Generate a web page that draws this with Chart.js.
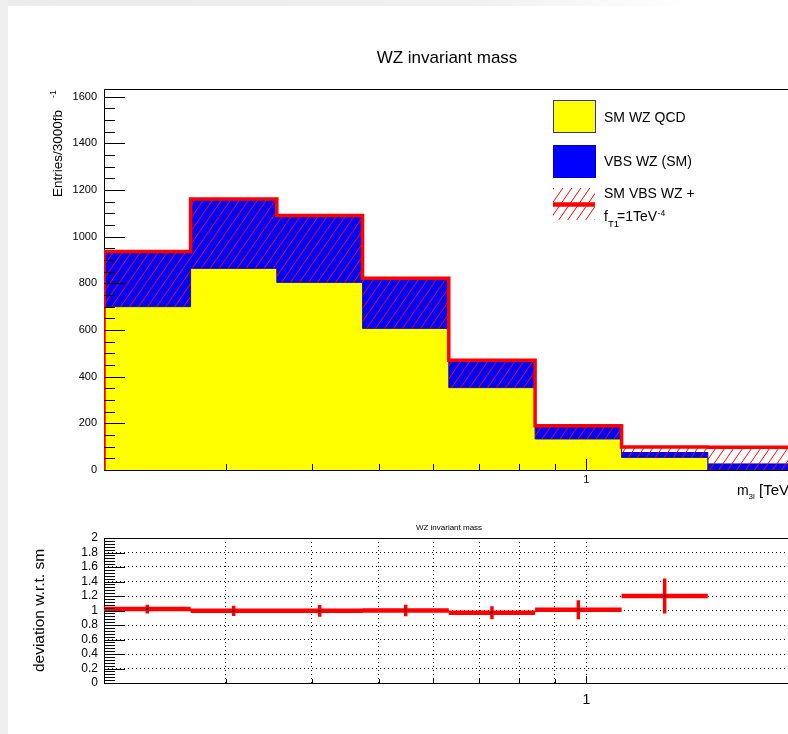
<!DOCTYPE html>
<html>
<head>
<meta charset="utf-8">
<title>WZ invariant mass</title>
<script src="https://cdn.jsdelivr.net/npm/chart.js@4.4.1/dist/chart.umd.min.js"></script>
<style>
  html, body { margin: 0; padding: 0; background: #fff; overflow: hidden; width: 788px; height: 734px; }
  #bandTop { position: absolute; left: 0; top: 0; width: 788px; height: 6px;
             background: linear-gradient(to right, #ebebeb 0%, #f0f0f0 60%, #ffffff 88%); }
  #bandLeft { position: absolute; left: 0; top: 0; width: 8px; height: 734px; background: #efefef; }
  canvas { position: absolute; left: 0; }
  #topChart { top: 0; }
  #ratioChart { top: 505px; }
</style>
</head>
<body>
<div id="bandTop"></div>
<div id="bandLeft"></div>
<canvas id="topChart" width="800" height="505"></canvas>
<canvas id="ratioChart" width="800" height="229"></canvas>
<script>
// m_3l bin edges in TeV (8 logarithmic bins)
const binEdges = [0.2, 0.267, 0.356, 0.474, 0.632, 0.843, 1.125, 1.5, 2.0];

// Stacked histogram tops, entries per 3000 fb^-1
const smQcd     = [700, 864, 804, 607, 353, 133, 54, 0];     // SM WZ QCD
const smTotal   = [930, 1155, 1085, 815, 464, 184, 75, 26];  // QCD + VBS WZ (SM)
const aqgcTotal = [937, 1161, 1091, 822, 470, 190, 99, 98];  // QCD + VBS WZ with f_T1 = 1 TeV^-4

// Deviation w.r.t. SM per bin and its error (last bin lies above the shown range)
const ratioVals = [1.02, 0.995, 0.995, 1.0, 0.97, 1.01, 1.2, null];
const ratioErrs = [0.06, 0.07, 0.08, 0.08, 0.09, 0.13, 0.24, null];

// Axis ticks
const yTicksTop   = [0, 200, 400, 600, 800, 1000, 1200, 1400, 1600];
const yMinorTop   = 50;
const yTicksRatio = [0, 0.2, 0.4, 0.6, 0.8, 1, 1.2, 1.4, 1.6, 1.8, 2];
const yMinorRatio = 0.04;
const xTickVals   = [0.3, 0.4, 0.5, 0.6, 0.7, 0.8, 0.9, 1];
const xLabelVals  = [1];

const FONT = '"Liberation Sans", Arial, Helvetica, sans-serif';
const RED = '#ff0000', BLUE = '#0000ff', YELLOW = '#ffff00', LINE_BLUE = '#1a1a8a';

// Histogram as step points: one point per bin low edge plus the final upper edge
function histPoints(vals) {
  const pts = vals.map((v, i) => ({ x: binEdges[i], y: v }));
  pts.push({ x: binEdges[binEdges.length - 1], y: vals[vals.length - 1] });
  return pts;
}
function outlinePoints(vals) {
  const first = binEdges[0], last = binEdges[binEdges.length - 1];
  return [{ x: first, y: 0 }, ...histPoints(vals), { x: last, y: 0 }];
}

function makeHatch(ctx, color) {
  const w = 9, h = 13;
  const tile = document.createElement('canvas');
  tile.width = w; tile.height = h;
  const g = tile.getContext('2d');
  g.strokeStyle = color; g.lineWidth = 1;
  g.beginPath();
  for (let k = -1; k <= 1; k++) { g.moveTo(k * w, h); g.lineTo(k * w + w, 0); }
  g.stroke();
  return ctx.createPattern(tile, 'repeat');
}

const topCanvas = document.getElementById('topChart');
const hatch = makeHatch(topCanvas.getContext('2d'), RED);

function drawTicksY(ctx, a, scale, majors, minorStep, majorLen, minorLen) {
  const lo = majors[0], hi = majors[majors.length - 1];
  const n = Math.round((hi - lo) / minorStep);
  const majorStep = majors[1] - majors[0];
  ctx.beginPath();
  for (let i = 0; i <= n; i++) {
    const v = lo + i * minorStep;
    const py = Math.round(scale.getPixelForValue(v)) + 0.5;
    const isMajor = Math.abs(v / majorStep - Math.round(v / majorStep)) < 1e-6;
    ctx.moveTo(a.left, py);
    ctx.lineTo(a.left + (isMajor ? majorLen : minorLen), py);
  }
  ctx.stroke();
}
function drawTicksX(ctx, a, scale, majorLen, minorLen) {
  ctx.beginPath();
  xTickVals.forEach(v => {
    const px = Math.round(scale.getPixelForValue(v)) + 0.5;
    ctx.moveTo(px, a.bottom);
    ctx.lineTo(px, a.bottom - (xLabelVals.includes(v) ? majorLen : minorLen));
  });
  ctx.stroke();
}
function drawFrame(ctx, a) {
  ctx.save();
  ctx.strokeStyle = '#000'; ctx.lineWidth = 1;
  ctx.strokeRect(a.left + 0.5, a.top + 0.5, a.right - a.left, a.bottom - a.top);
  ctx.restore();
}
function rotText(ctx, text, x, y, font, align) {
  ctx.save();
  ctx.translate(x, y);
  ctx.rotate(-Math.PI / 2);
  ctx.font = font;
  ctx.textAlign = align;
  ctx.textBaseline = 'alphabetic';
  ctx.fillText(text, 0, 0);
  ctx.restore();
}

const topDecor = {
  id: 'topDecor',
  beforeDatasetsDraw(chart) { drawFrame(chart.ctx, chart.chartArea); },
  afterDatasetsDraw(chart) {
    const { ctx, chartArea: a, scales: { x, y } } = chart;
    ctx.save();
    ctx.strokeStyle = '#000'; ctx.lineWidth = 1;
    drawTicksY(ctx, a, y, yTicksTop, yMinorTop, 21, 11);
    drawTicksX(ctx, a, x, 11, 6);
    ctx.restore();
  },
  afterDraw(chart) {
    const ctx = chart.ctx;
    ctx.save();
    ctx.fillStyle = '#000';
    ctx.textBaseline = 'alphabetic';

    // title
    ctx.font = '17px ' + FONT;
    ctx.textAlign = 'center';
    ctx.fillText('WZ invariant mass', 447, 63);

    // y-axis title with superscript
    rotText(ctx, 'Entries/3000fb', 62, 197, '13.5px ' + FONT, 'left');
    rotText(ctx, '-1', 56, 98, '9px ' + FONT, 'left');

    // x-axis title m_3l [TeV]
    ctx.textAlign = 'left';
    ctx.font = '14px ' + FONT;
    ctx.fillText('m', 737, 495);
    ctx.font = '8px ' + FONT;
    ctx.fillText('3l', 748.5, 499);
    ctx.font = '15px ' + FONT;
    ctx.fillText('[TeV]', 759, 495);

    // legend
    const bx = 553, bw = 42, bh = 32;
    ctx.fillStyle = YELLOW;
    ctx.fillRect(bx, 100, bw, bh);
    ctx.strokeStyle = '#3030b0'; ctx.lineWidth = 1;
    ctx.strokeRect(bx + 0.5, 100.5, bw, bh);
    ctx.fillStyle = BLUE;
    ctx.fillRect(bx, 145, bw, bh);
    ctx.strokeStyle = '#0000cc';
    ctx.strokeRect(bx + 0.5, 145.5, bw, bh);
    ctx.fillStyle = hatch;
    ctx.fillRect(bx, 188, bw, bh);
    ctx.strokeStyle = RED; ctx.lineWidth = 4.3;
    ctx.beginPath(); ctx.moveTo(bx, 204.5); ctx.lineTo(bx + bw, 204.5); ctx.stroke();

    ctx.fillStyle = '#000';
    ctx.font = '14px ' + FONT;
    ctx.fillText('SM WZ QCD', 604, 122);
    ctx.fillText('VBS WZ (SM)', 604, 166);
    ctx.fillText('SM VBS WZ +', 604, 197.5);
    ctx.fillText('f', 604, 221);
    ctx.font = '9.5px ' + FONT;
    ctx.fillText('T1', 608, 226.5);
    ctx.font = '14px ' + FONT;
    ctx.fillText('=1TeV', 617, 221);
    const wEq = ctx.measureText('=1TeV').width;
    ctx.font = '8.5px ' + FONT;
    ctx.fillText('-4', 617 + wEq + 0.5, 215.5);
    ctx.restore();
  }
};

const commonX = (height, labelSize, labelPad) => ({
  type: 'logarithmic',
  min: binEdges[0],
  max: binEdges[binEdges.length - 1],
  afterBuildTicks: s => { s.ticks = xTickVals.map(v => ({ value: v })); },
  afterFit: s => { s.height = height; },
  ticks: {
    autoSkip: false, maxRotation: 0, padding: labelPad, color: '#000',
    font: { family: FONT, size: labelSize },
    callback: v => (xLabelVals.includes(v) ? String(v) : '')
  },
  border: { display: false }
});

new Chart(topCanvas, {
  type: 'line',
  data: {
    datasets: [
      { label: 'SM VBS WZ + f_T1=1TeV^-4', data: outlinePoints(aqgcTotal), stepped: true,
        borderColor: RED, borderWidth: 3.5, fill: false, pointRadius: 0, order: 0 },
      { label: 'hatch', data: histPoints(aqgcTotal), stepped: true,
        borderWidth: 0, borderColor: 'rgba(0,0,0,0)', backgroundColor: hatch,
        fill: { target: 2 }, pointRadius: 0, order: 1 },
      { label: 'SM WZ QCD', data: histPoints(smQcd), stepped: true,
        borderColor: LINE_BLUE, borderWidth: 1, backgroundColor: YELLOW,
        fill: 'origin', pointRadius: 0, order: 2 },
      { label: 'VBS WZ (SM)', data: histPoints(smTotal), stepped: true,
        borderColor: '#0000cc', borderWidth: 1, backgroundColor: BLUE,
        fill: 'origin', pointRadius: 0, order: 3 }
    ]
  },
  options: {
    responsive: false, animation: false, events: [],
    layout: { padding: { left: 0, right: 6, top: 89, bottom: 0 } },
    plugins: { legend: { display: false }, tooltip: { enabled: false }, title: { display: false } },
    scales: {
      x: Object.assign(commonX(35, 11, 3), { grid: { display: false, drawTicks: false } }),
      y: {
        min: 0, max: 1633,
        afterBuildTicks: s => { s.ticks = yTicksTop.map(v => ({ value: v })); },
        afterFit: s => { s.width = 104; },
        ticks: { autoSkip: false, padding: 7, color: '#000', font: { family: FONT, size: 11 }, callback: v => String(v) },
        grid: { display: false, drawTicks: false },
        border: { display: false }
      }
    }
  },
  plugins: [topDecor]
});

// ---- deviation panel ----
const segPts = [], errPts = [], ctrPts = [];
ratioVals.forEach((r, i) => {
  if (r === null) return;
  const lo = binEdges[i], hi = binEdges[i + 1], c = Math.sqrt(lo * hi), e = ratioErrs[i];
  segPts.push({ x: lo, y: r }, { x: hi, y: r }, { x: hi, y: null });
  errPts.push({ x: c, y: r - e }, { x: c, y: r + e }, { x: c, y: null });
  ctrPts.push({ x: c, y: r });
});

const ratioDecor = {
  id: 'ratioDecor',
  beforeDatasetsDraw(chart) { drawFrame(chart.ctx, chart.chartArea); },
  afterDatasetsDraw(chart) {
    const { ctx, chartArea: a, scales: { x, y } } = chart;
    ctx.save();
    ctx.strokeStyle = '#000'; ctx.lineWidth = 1;
    drawTicksY(ctx, a, y, yTicksRatio, yMinorRatio, 21, 11);
    drawTicksX(ctx, a, x, 7, 4);
    ctx.restore();
  },
  afterDraw(chart) {
    const ctx = chart.ctx;
    ctx.save();
    ctx.fillStyle = '#000';
    ctx.font = '8px ' + FONT;
    ctx.textAlign = 'center';
    ctx.textBaseline = 'alphabetic';
    ctx.fillText('WZ invariant mass', 449, 24.5);
    rotText(ctx, 'deviation w.r.t. sm', 43.5, 105.5, '15.5px ' + FONT, 'center');
    ctx.restore();
  }
};

const gridDotted = { display: true, drawTicks: false, color: '#000', lineWidth: 1 };

new Chart(document.getElementById('ratioChart'), {
  type: 'line',
  data: {
    datasets: [
      { label: 'centres', data: ctrPts, showLine: false, pointRadius: 1.2,
        pointBackgroundColor: '#000', pointBorderWidth: 0, order: 0 },
      { label: 'errors', data: errPts, borderColor: RED, borderWidth: 3.5, spanGaps: false,
        pointRadius: 0, fill: false, borderCapStyle: 'butt', order: 1 },
      { label: 'deviation', data: segPts, borderColor: RED, borderWidth: 4.5, spanGaps: false,
        pointRadius: 0, fill: false, borderCapStyle: 'butt', order: 2 }
    ]
  },
  options: {
    responsive: false, animation: false, events: [],
    layout: { padding: { left: 0, right: 6, top: 33, bottom: 0 } },
    plugins: { legend: { display: false }, tooltip: { enabled: false }, title: { display: false } },
    scales: {
      x: Object.assign(commonX(51, 14, 9), {
        grid: gridDotted, border: { display: false, dash: [1, 3] }
      }),
      y: {
        min: 0, max: 2,
        afterBuildTicks: s => { s.ticks = yTicksRatio.map(v => ({ value: v })); },
        afterFit: s => { s.width = 104; },
        ticks: { autoSkip: false, padding: 6, color: '#000', font: { family: FONT, size: 12 }, callback: v => String(v) },
        grid: gridDotted,
        border: { display: false, dash: [1, 3] }
      }
    }
  },
  plugins: [ratioDecor]
});
</script>
</body>
</html>
